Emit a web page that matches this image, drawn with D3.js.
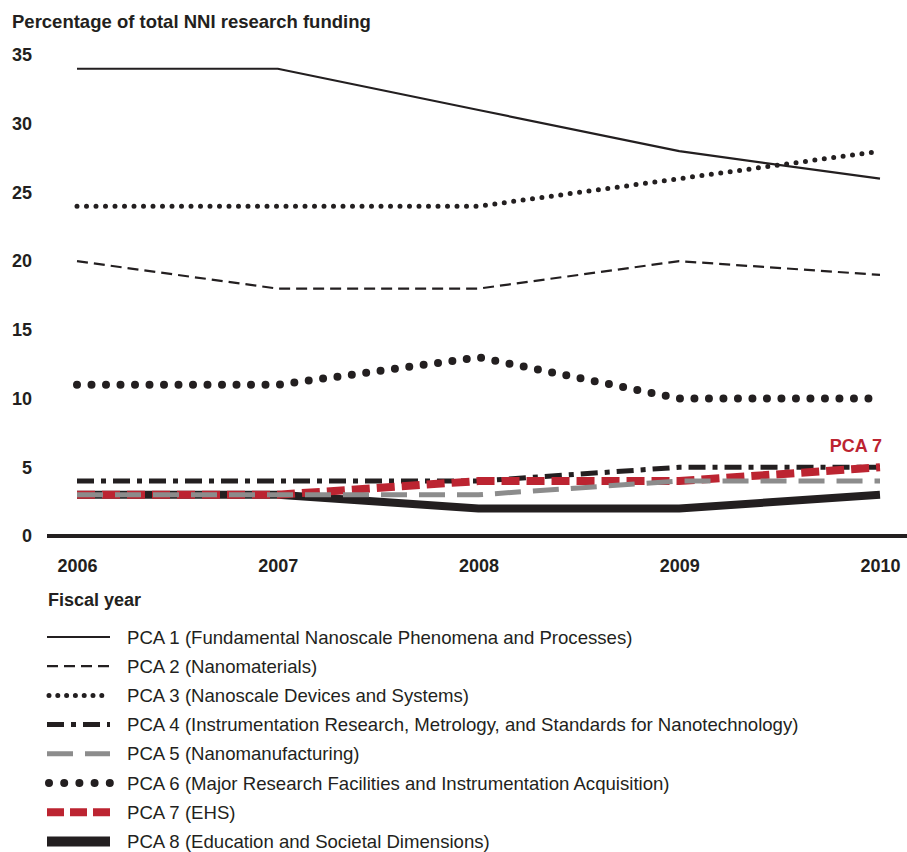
<!DOCTYPE html>
<html>
<head>
<meta charset="utf-8">
<script src="https://cdn.jsdelivr.net/npm/d3@7"></script>
<style>
  body { margin: 0; background: #fff; }
  svg { display: block; font-family: "Liberation Sans", Arial, sans-serif; }
</style>
</head>
<body>
<svg id="chart" width="907" height="852"></svg>
<script>
// ---- data ----
const years = [2006, 2007, 2008, 2009, 2010];
const yTicks = [0, 5, 10, 15, 20, 25, 30, 35];
const pca1 = [34, 34, 31, 28, 26];
const pca2 = [20, 18, 18, 20, 19];
const pca3 = [24, 24, 24, 26, 28];
const pca4 = [4, 4, 4, 5, 5];
const pca5 = [3, 3, 3, 4, 4];
const pca6 = [11, 11, 13, 10, 10];
const pca7 = [3, 3, 4, 4, 5];
const pca8 = [3, 3, 2, 2, 3];
const legendLabels = [
  "PCA 1 (Fundamental Nanoscale Phenomena and Processes)",
  "PCA 2 (Nanomaterials)",
  "PCA 3 (Nanoscale Devices and Systems)",
  "PCA 4 (Instrumentation Research, Metrology, and Standards for Nanotechnology)",
  "PCA 5 (Nanomanufacturing)",
  "PCA 6 (Major Research Facilities and Instrumentation Acquisition)",
  "PCA 7 (EHS)",
  "PCA 8 (Education and Societal Dimensions)"
];

// ---- styles ----
const RED = "#bc2431", GRAY = "#8c8c8c", INK = "#231f20";
const styles = {
  pca1: {stroke: INK, width: 2.2, dash: null, cap: "butt", curve: d3.curveLinear},
  pca2: {stroke: INK, width: 2.2, dash: "11 6", cap: "butt", curve: d3.curveLinear},
  pca3: {stroke: INK, width: 5, dash: "0 9.5", cap: "round", curve: d3.curveLinear},
  pca4: {stroke: INK, width: 5, dash: "17 7 5 7", cap: "butt", curve: d3.curveLinear},
  pca5: {stroke: GRAY, width: 5, dash: "26 12", cap: "butt", curve: d3.curveLinear},
  pca6: {stroke: INK, width: 8, dash: "0 14.5", cap: "round", curve: d3.curveLinear},
  pca7: {stroke: RED, width: 8, dash: "18 7", cap: "butt", curve: d3.curveLinear},
  pca8: {stroke: INK, width: 8, dash: null, cap: "butt", curve: d3.curveLinear}
};
const series = [
  {key: "pca1", values: pca1}, {key: "pca2", values: pca2},
  {key: "pca3", values: pca3}, {key: "pca4", values: pca4},
  {key: "pca5", values: pca5}, {key: "pca6", values: pca6},
  {key: "pca7", values: pca7}, {key: "pca8", values: pca8}
];
const drawOrder = ["pca1", "pca2", "pca3", "pca6", "pca8", "pca4", "pca7", "pca5"];

const svg = d3.select("#chart");
const x = d3.scaleLinear().domain([2006, 2010]).range([77, 880]);
const y = d3.scaleLinear().domain([0, 35]).range([536, 55]);

// title
svg.append("text").attr("x", 12).attr("y", 28)
  .attr("font-size", 18.5).attr("font-weight", "bold").attr("fill", INK)
  .text("Percentage of total NNI research funding");

// y axis labels
const yAxis = svg.append("g").attr("transform", "translate(32,0)")
  .call(d3.axisLeft(y).tickValues(yTicks).tickSize(0).tickPadding(0).tickFormat(d3.format("d")));
yAxis.select(".domain").remove();
yAxis.selectAll("text").attr("font-size", 18).attr("font-weight", "bold")
  .attr("fill", INK).attr("font-family", "Liberation Sans, Arial, sans-serif");

// x axis labels
const xAxis = svg.append("g").attr("transform", `translate(0,${y(0)})`)
  .call(d3.axisBottom(x).tickValues(years).tickSize(0).tickPadding(23).tickFormat(d3.format("d")));
xAxis.select(".domain").remove();
xAxis.selectAll("text").attr("font-size", 18).attr("font-weight", "bold")
  .attr("fill", INK).attr("font-family", "Liberation Sans, Arial, sans-serif");

// baseline
svg.append("line").attr("x1", 47).attr("x2", 907).attr("y1", y(0)).attr("y2", y(0))
  .attr("stroke", INK).attr("stroke-width", 4);

// fiscal year label
svg.append("text").attr("x", 48).attr("y", 606)
  .attr("font-size", 18).attr("font-weight", "bold").attr("fill", INK)
  .text("Fiscal year");

// lines
drawOrder.forEach(k => {
  const s = series.find(d => d.key === k);
  const st = styles[k];
  const line = d3.line().x((d, i) => x(years[i])).y(d => y(d)).curve(st.curve);
  svg.append("path").datum(s.values)
    .attr("d", line).attr("fill", "none")
    .attr("stroke", st.stroke).attr("stroke-width", st.width)
    .attr("stroke-linecap", st.cap).attr("stroke-linejoin", "round")
    .attr("stroke-dasharray", st.dash);
});

// PCA 7 callout
svg.append("text").attr("x", x(2010) + 2).attr("y", y(pca7[4]) - 15)
  .attr("text-anchor", "end").attr("font-size", 18).attr("font-weight", "bold")
  .attr("fill", RED).text("PCA 7");

// legend
const lg = svg.append("g");
series.forEach((s, i) => {
  const st = styles[s.key];
  const cy = 637 + i * 29.2;
  const isDot = st.cap === "round";
  lg.append("line")
    .attr("x1", isDot ? 49 : 47).attr("x2", 110).attr("y1", cy).attr("y2", cy)
    .attr("stroke", st.stroke).attr("stroke-width", s.key === "pca8" ? 10 : st.width)
    .attr("stroke-linecap", st.cap)
    .attr("stroke-dasharray", s.key === "pca7" ? "17 6" : (s.key === "pca6" ? "0 15.2" : (s.key === "pca3" ? "0 8.8" : st.dash)));
  lg.append("text").attr("x", 127).attr("y", cy).attr("dy", "0.35em")
    .attr("font-size", 18.6).attr("fill", INK).text(legendLabels[i]);
});
</script>
</body>
</html>
